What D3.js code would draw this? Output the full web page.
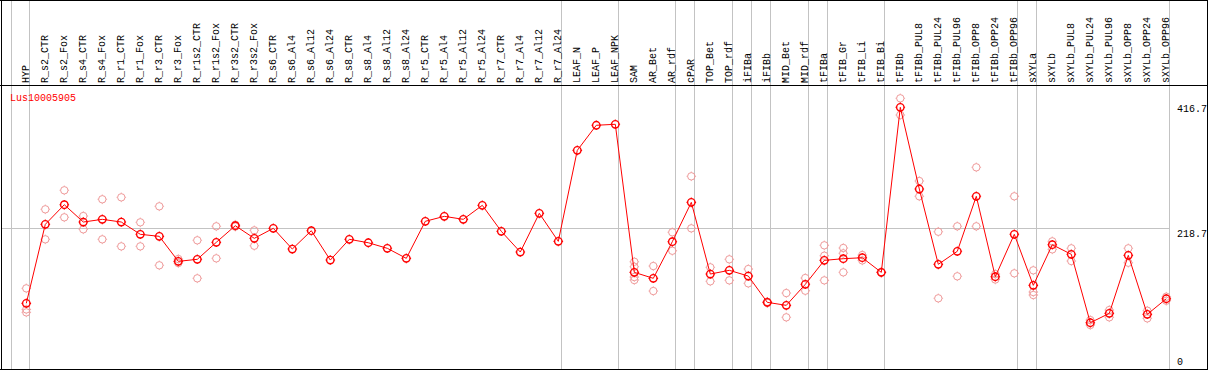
<!DOCTYPE html>
<html>
<head>
<meta charset="utf-8">
<script src="https://cdn.jsdelivr.net/npm/d3@7/dist/d3.min.js"></script>
<style>
html,body{margin:0;padding:0;background:#fff;}
svg{display:block;}
text{font-family:"Liberation Mono","DejaVu Sans Mono",monospace;font-size:10px;}
</style>
</head>
<body>
<svg id="chart" width="1209" height="370"></svg>
<script>
const title = "Lus10005905";
const categories = ["HYP","R_s2_CTR","R_s2_Fox","R_s4_CTR","R_s4_Fox","R_r1_CTR","R_r1_Fox","R_r3_CTR","R_r3_Fox","R_r1s2_CTR","R_r1s2_Fox","R_r3s2_CTR","R_r3s2_Fox","R_s6_CTR","R_s6_Al4","R_s6_Al12","R_s6_Al24","R_s8_CTR","R_s8_Al4","R_s8_Al12","R_s8_Al24","R_r5_CTR","R_r5_Al4","R_r5_Al12","R_r5_Al24","R_r7_CTR","R_r7_Al4","R_r7_Al12","R_r7_Al24","LEAF_N","LEAF_P","LEAF_NPK","SAM","AR_Bet","AR_rdf","cPAR","TOP_Bet","TOP_rdf","iFIBa","iFIBb","MID_Bet","MID_rdf","tFIBa","tFIB_Gr","tFIB_Li","tFIB_Bi","tFIBb","tFIBb_PUL8","tFIBb_PUL24","tFIBb_PUL96","tFIBb_OPP8","tFIBb_OPP24","tFIBb_OPP96","sXYLa","sXYLb","sXYLb_PUL8","sXYLb_PUL24","sXYLb_PUL96","sXYLb_OPP8","sXYLb_OPP24","sXYLb_OPP96"];
const means = [96.0,225.2,257.3,229.0,233.4,229.0,208.9,205.6,164.7,168.0,195.8,223.0,202.3,218.7,184.8,214.8,166.8,200.7,195.1,186.0,169.6,230.2,238.3,233.4,256.3,213.8,179.9,243.2,197.4,346.3,387.3,388.9,146.7,136.9,196.8,261.2,143.9,150.0,140.6,97.6,92.7,127.1,166.3,169.0,170.6,146.7,416.7,283.0,159.8,181.1,271.1,139.5,208.9,125.4,191.9,176.2,64.2,79.6,174.5,78.0,103.5];
const replicates = [
  [120.5,86.0,81.2],[249.8,200.7],[280.9,236.7],[238.8,217.1],[266.2,200.7],[269.4,189.2],[228.5,189.2],[254.7,158.2],[168.5,161.9],[199.1,136.9],[222.0,169.6],[224.6,221.5],[215.4,190.2],
  [],[],[],[],[],[],[],[],[],[],[],[],[],[],[],[],[],[],[],
  [164.0,155.9,139.0,134.1],[157.0,116.1],[212.2,182.0],[303.8,218.7],[154.9,132.0],[168.0,133.6],[152.1,128.7],[98.5,96.7],[112.8,73.1],[137.4,116.6],[190.9,173.9,133.6],[186.5,177.8,146.7],[175.0,166.2],[146.2,147.2],
  [431.4,404.1],[296.1,271.1],[213.1,104.2],[222.0,140.2],[318.5,222.0],[143.9,135.0],[271.1,145.1],[150.0,114.5,109.6],[197.4,184.3],[186.0,165.2],[68.6,60.5],[85.0,73.1],[186.0,162.4],[83.9,71.4],[100.2,106.8]
];
// columns after which a grey separator is drawn
const groupEnds = ["HYP","R_r7_Al24","LEAF_NPK","AR_rdf","cPAR","TOP_rdf","iFIBa","iFIBb","MID_rdf","tFIBa","tFIB_Bi","tFIBb_OPP96","sXYLa","sXYLb_OPP96"];
const yTicks = [416.7, 218.7, 0];
const yGrid = [218.7];

const svg = d3.select("#chart");
const W = 1209, H = 370;
const headerY = 85.5, bottomY = 369.5;

const x = d3.scaleBand().domain(categories).range([11, 1170]).paddingInner(0).paddingOuter(0);
const px = c => x(c) + 15.3;
const y = d3.scaleLinear().domain([0, 416.7]).range([362, 107.3]);

const grey = "#c3c3c3";
svg.append("line").attr("x1",11.5).attr("x2",11.5).attr("y1",0).attr("y2",H).attr("stroke",grey);
svg.selectAll("line.sep").data(groupEnds).enter().append("line").attr("class","sep")
  .attr("x1",d=>Math.round(x(d)+x.bandwidth())-0.5).attr("x2",d=>Math.round(x(d)+x.bandwidth())-0.5)
  .attr("y1",0).attr("y2",H).attr("stroke",grey);
svg.selectAll("line.grid").data(yGrid).enter().append("line").attr("class","grid")
  .attr("x1",1).attr("x2",1170).attr("y1",d=>Math.round(y(d))+0.5).attr("y2",d=>Math.round(y(d))+0.5).attr("stroke",grey);

// frame
svg.append("line").attr("x1",0).attr("x2",1208).attr("y1",0.5).attr("y2",0.5).attr("stroke","#000");
svg.append("line").attr("x1",0).attr("x2",1208).attr("y1",headerY).attr("y2",headerY).attr("stroke","#000").attr("stroke-width",1.2);
svg.append("line").attr("x1",0).attr("x2",1208).attr("y1",bottomY).attr("y2",bottomY).attr("stroke","#000");
svg.append("line").attr("x1",1.5).attr("x2",1.5).attr("y1",0).attr("y2",H).attr("stroke","#000");

// header labels
svg.selectAll("text.cat").data(categories).enter().append("text").attr("class","cat")
  .attr("transform",d=>`translate(${px(d)+3},83) rotate(-90)`)
  .attr("fill","#000").text(d=>d);

// title
svg.append("text").attr("x",10).attr("y",101).attr("fill","#ff0000").text(title);

// y labels
const yOff = {"416.7":5,"218.7":8.4,"0":3.3};
svg.selectAll("text.yt").data(yTicks).enter().append("text").attr("class","yt")
  .attr("x",1177).attr("y",d=>y(d)+yOff[String(d)]).attr("fill","#000").text(d=>String(d));

svg.append("line").attr("x1",1207.5).attr("x2",1207.5).attr("y1",0).attr("y2",H).attr("stroke","#000");

function marker(g, cx, cy, color, sw){
  const r = 3.7;
  g.append("circle").attr("cx",cx).attr("cy",cy).attr("r",r).attr("fill","none").attr("stroke",color).attr("stroke-width",sw);
  [[0,-1],[0,1],[-1,0],[1,0]].forEach(([dx,dy])=>{
    g.append("line").attr("x1",cx+dx*r).attr("y1",cy+dy*r).attr("x2",cx+dx*(r+1.1)).attr("y2",cy+dy*(r+1.1))
      .attr("stroke",color).attr("stroke-width",sw*0.8);
  });
}

const repG = svg.append("g");
categories.forEach((c,i)=>{
  replicates[i].forEach(v=>marker(repG, px(c), y(v), "#ef9a9a", 1));
});

const line = d3.line().x((d,i)=>px(categories[i])).y(d=>y(d));
svg.append("path").datum(means).attr("d",line).attr("fill","none").attr("stroke","#ff0000").attr("stroke-width",1);

const mG = svg.append("g");
categories.forEach((c,i)=>marker(mG, px(c), y(means[i]), "#ff0000", 1.4));
</script>
</body>
</html>
